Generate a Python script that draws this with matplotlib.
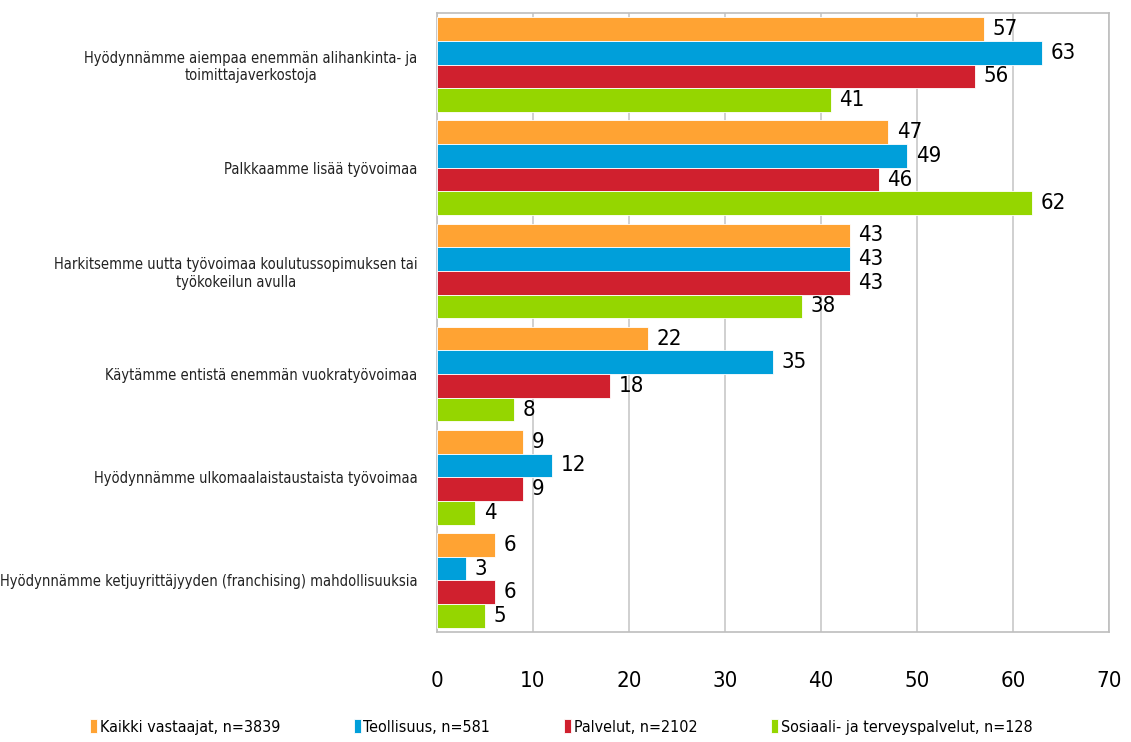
import matplotlib.pyplot as plt
import numpy as np
from matplotlib import font_manager as fm

categories = [
    "Hyödynnämme aiempaa enemmän alihankinta- ja\ntoimittajaverkostoja",
    "Palkkaamme lisää työvoimaa",
    "Harkitsemme uutta työvoimaa koulutussopimuksen tai\ntyökokeilun avulla",
    "Käytämme entistä enemmän vuokratyövoimaa",
    "Hyödynnämme ulkomaalaistaustaista työvoimaa",
    "Hyödynnämme ketjuyrittäjyyden (franchising) mahdollisuuksia",
]
series_names = [
    "Kaikki vastaajat, n=3839",
    "Teollisuus, n=581",
    "Palvelut, n=2102",
    "Sosiaali- ja terveyspalvelut, n=128",
]
kaikki = [57, 47, 43, 22, 9, 6]
teollisuus = [63, 49, 43, 35, 12, 3]
palvelut = [56, 46, 43, 18, 9, 6]
sote = [41, 62, 38, 8, 4, 5]
colors = ["#FFA333", "#009FDA", "#D0202E", "#95D600"]

# use a condensed face if one is around, the original font is narrow
cond = any('Condensed' in f.fname or 'Narrow' in f.fname for f in fm.fontManager.ttflist
           if 'DejaVuSans' in f.fname.replace(' ', ''))
plt.rcParams['font.family'] = ['DejaVu Sans']
k = 1.0
if cond:
    plt.rcParams['font.stretch'] = 'condensed'
    k = 1.1

fig = plt.figure(figsize=(11.31, 7.42), dpi=100)
ax = fig.add_axes([437 / 1131, 1 - 632 / 742, 672 / 1131, 619 / 742])

y = np.arange(len(categories))
h = 0.229
for i, (vals, c, name) in enumerate(zip([kaikki, teollisuus, palvelut, sote], colors, series_names)):
    pos = y - 1.5 * h + i * h
    ax.barh(pos, vals, height=h, color=c, label=name, zorder=3,
            edgecolor='white', linewidth=0.6)
    for p, v in zip(pos, vals):
        ax.text(v + 0.9, p, str(v), va='center', ha='left', fontsize=14.5 * k, zorder=4)

ax.set_xlim(0, 70)
ax.set_ylim(len(categories) - 0.5, -0.5)
ax.set_xticks(range(0, 71, 10))
ax.set_yticks(y)
ax.set_yticklabels(categories, fontsize=9.6 * k, ha='right', multialignment='center',
                   color='#222222')
ax.tick_params(axis='y', length=0, pad=14)
ax.tick_params(axis='x', length=0, pad=28, labelsize=14.5 * k)
ax.grid(axis='x', color='#C8C8C8', lw=1.2, zorder=0)
for s in ax.spines.values():
    s.set_color('#BEBEBE')
    s.set_linewidth(1.2)

fig.legend(loc='center left', bbox_to_anchor=(90 / 1131, 15 / 742), ncol=4, frameon=False,
           fontsize=10.5 * k, handlelength=0.45, handleheight=0.9, handletextpad=0.15,
           columnspacing=4.6, borderaxespad=0, borderpad=0)

fig.savefig("out.png", dpi=100)
